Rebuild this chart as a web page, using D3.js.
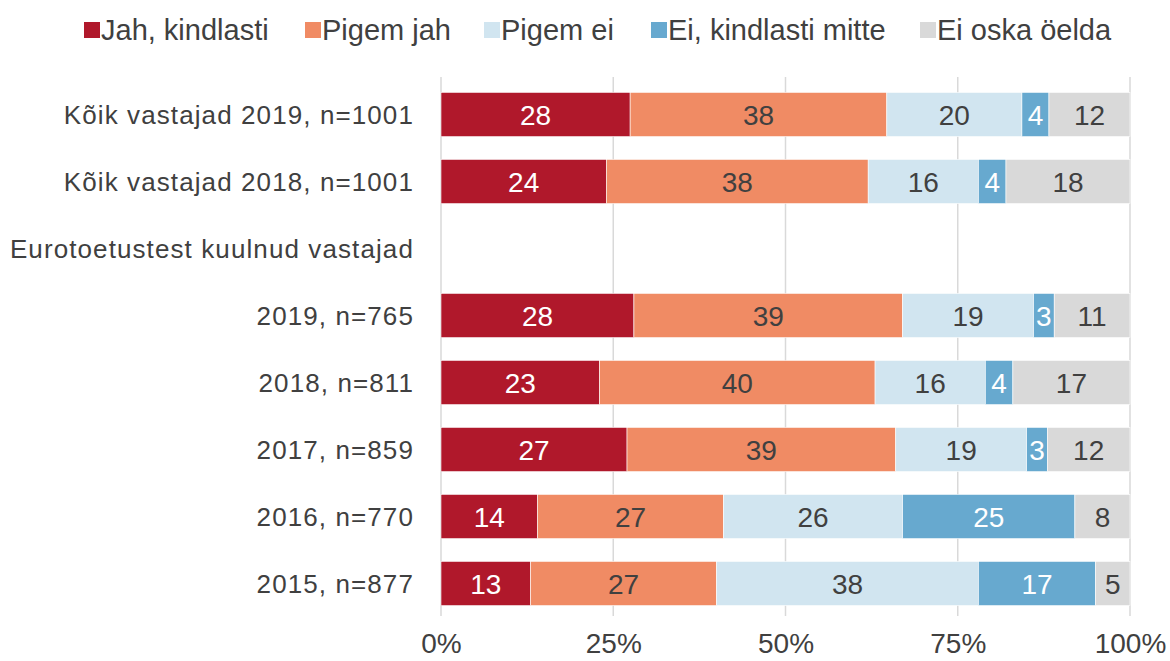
<!DOCTYPE html>
<html>
<head>
<meta charset="utf-8">
<script src="https://cdn.jsdelivr.net/npm/d3@7"></script>
<style>
  body { margin: 0; background: #fff; }
  svg text { font-family: "Liberation Sans", Arial, sans-serif; fill: #404040; }
</style>
</head>
<body>
<div id="graphic"></div>
<script>
const categories = [
  'Kõik vastajad 2019, n=1001',
  'Kõik vastajad 2018, n=1001',
  'Eurotoetustest kuulnud vastajad',
  '2019, n=765',
  '2018, n=811',
  '2017, n=859',
  '2016, n=770',
  '2015, n=877'
];
const seriesNames = ['Jah, kindlasti', 'Pigem jah', 'Pigem ei', 'Ei, kindlasti mitte', 'Ei oska öelda'];
const jahKindlasti = [28, 24, null, 28, 23, 27, 14, 13];
const pigemJah = [38, 38, null, 39, 40, 39, 27, 27];
const pigemEi = [20, 16, null, 19, 16, 19, 26, 38];
const eiKindlastiMitte = [4, 4, null, 3, 4, 3, 25, 17];
const eiOskaOelda = [12, 18, null, 11, 17, 12, 8, 5];
const tickValues = [0, 0.25, 0.5, 0.75, 1];

const colors = ['#B0182B', '#F08B64', '#D1E5F0', '#67A9CF', '#D9D9D9'];
const labelColors = ['#ffffff', '#404040', '#404040', '#ffffff', '#404040'];

const seriesValues = [jahKindlasti, pigemJah, pigemEi, eiKindlastiMitte, eiOskaOelda];
const table = categories.map((c, i) => {
  const row = { category: c };
  seriesNames.forEach((s, j) => { row[s] = seriesValues[j][i] || 0; });
  return row;
});

const width = 1170, height = 661;

const svg = d3.select('#graphic').append('svg')
  .attr('width', width)
  .attr('height', height);

const x = d3.scaleLinear().domain([0, 1]).range([441, 1130]);
const y = d3.scaleBand().domain(categories).range([81, 617]).paddingInner(0.34).paddingOuter(0.17);

// gridlines
svg.append('g')
  .selectAll('line')
  .data(tickValues)
  .enter().append('line')
  .attr('x1', d => x(d)).attr('x2', d => x(d))
  .attr('y1', 77).attr('y2', 616)
  .attr('stroke', '#D9D9D9')
  .attr('stroke-width', 1.5);

// empty rows (the group heading) have no bars
const stack = d3.stack().keys(seriesNames).offset(d3.stackOffsetExpand);
const stacked = stack(table);

const layers = svg.selectAll('.layer')
  .data(stacked)
  .enter().append('g')
  .attr('class', 'layer');

const hasData = p => p.data[seriesNames[0]] > 0;

layers.selectAll('rect')
  .data(d => d.filter(hasData))
  .enter().append('rect')
  .attr('x', d => x(d[0]))
  .attr('y', d => y(d.data.category))
  .attr('width', d => x(d[1]) - x(d[0]))
  .attr('height', y.bandwidth())
  .attr('fill', function () { return colors[d3.select(this.parentNode).datum().index]; })
  .attr('stroke', '#ffffff')
  .attr('stroke-width', 0.6);

layers.selectAll('text')
  .data(d => d.filter(hasData).map(p => ({ p: p, key: d.key, index: d.index })))
  .enter().append('text')
  .attr('x', d => (x(d.p[0]) + x(d.p[1])) / 2)
  .attr('y', d => y(d.p.data.category) + y.bandwidth() / 2)
  .attr('dy', '0.36em')
  .attr('text-anchor', 'middle')
  .style('font-size', '28px')
  .style('fill', d => labelColors[d.index])
  .text(d => d.p.data[d.key]);

// category axis
const yAxis = d3.axisLeft(y).tickSize(0).tickPadding(0);
const yg = svg.append('g')
  .attr('transform', 'translate(414,0)')
  .call(yAxis);
yg.select('.domain').remove();
yg.selectAll('text')
  .style('font-size', '26px')
  .style('letter-spacing', '1.1px')
  .attr('dy', '0.36em');

// x axis
const xAxis = d3.axisBottom(x).tickValues(tickValues).tickFormat(d3.format('.0%')).tickSize(0).tickPadding(0);
const xg = svg.append('g')
  .attr('transform', 'translate(0,643)')
  .call(xAxis);
xg.select('.domain').remove();
xg.selectAll('text')
  .attr('dy', '0.36em')
  .style('font-size', '28px');

// legend
const legendX = [84, 305, 484, 651, 920];
const legend = svg.selectAll('.legend')
  .data(seriesNames)
  .enter().append('g')
  .attr('class', 'legend')
  .attr('transform', (d, i) => 'translate(' + legendX[i] + ',22)');

legend.append('rect')
  .attr('width', 16)
  .attr('height', 16)
  .attr('fill', (d, i) => colors[i]);

legend.append('text')
  .attr('x', 17)
  .attr('y', 8)
  .attr('dy', '0.36em')
  .style('font-size', '29px')
  .text(d => d);
</script>
</body>
</html>
